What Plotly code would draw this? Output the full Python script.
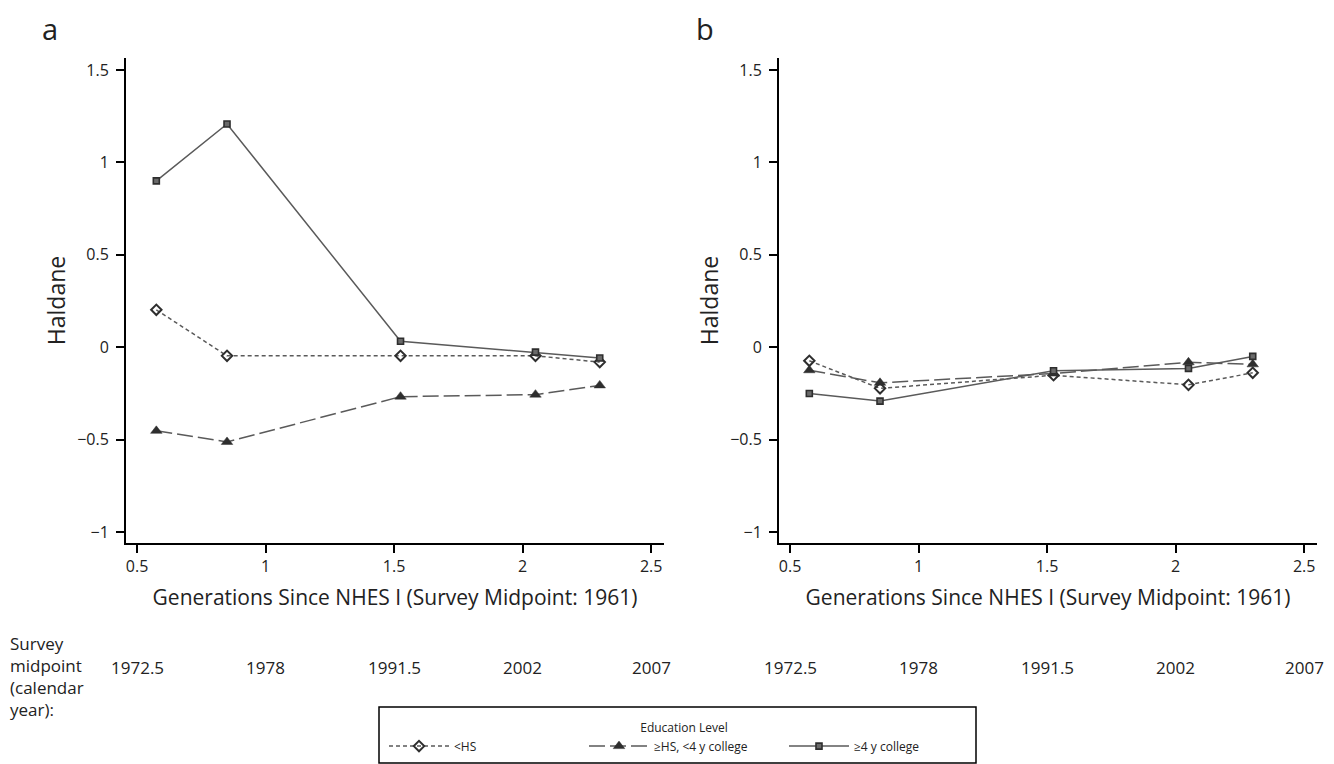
import plotly.graph_objects as go

# ---- data ----
generations = [0.575, 0.85, 1.525, 2.05, 2.3]

a_lt_hs = [0.202, -0.047, -0.047, -0.047, -0.081]
a_hs_lt4 = [-0.453, -0.513, -0.268, -0.257, -0.207]
a_ge4 = [0.90, 1.208, 0.032, -0.027, -0.059]

b_lt_hs = [-0.074, -0.223, -0.152, -0.204, -0.139]
b_hs_lt4 = [-0.125, -0.193, -0.143, -0.082, -0.093]
b_ge4 = [-0.251, -0.292, -0.128, -0.115, -0.050]

series_names = ["<HS", "\u2265HS, <4 y college", "\u22654 y college"]
x_ticks = [0.5, 1, 1.5, 2, 2.5]
year_labels = ["1972.5", "1978", "1991.5", "2002", "2007"]
y_ticks = [-1, -0.5, 0, 0.5, 1, 1.5]

# The page body adds an 8px offset; size the figure to fill the rest.
OFF = 8
W, H = 1334 - OFF, 764 - OFF
FONT = "Open Sans"
TXT = "#222222"
LINE = "#5a5a5a"
MARK = "#2e2e2e"

styles = [
    dict(line=dict(color=LINE, width=1.5, dash="4px,3px"),
         marker=dict(symbol="diamond-open", size=8, color=MARK, line=dict(width=2, color=MARK))),
    dict(line=dict(color=LINE, width=1.5, dash="16px,5px"),
         marker=dict(symbol="triangle-up", size=10, color=MARK, line=dict(width=0.5, color=MARK))),
    dict(line=dict(color=LINE, width=1.5),
         marker=dict(symbol="square", size=6, color="#6a6a6a", line=dict(width=1.6, color=MARK))),
]

fig = go.Figure()
panels = [("x", "y", [a_lt_hs, a_hs_lt4, a_ge4]), ("x2", "y2", [b_lt_hs, b_hs_lt4, b_ge4])]
for pi, (xa, ya, vals) in enumerate(panels):
    for si, v in enumerate(vals):
        fig.add_trace(go.Scatter(
            x=generations, y=v, mode="lines+markers", name=series_names[si],
            xaxis=xa, yaxis=ya, showlegend=(pi == 0),
            line=styles[si]["line"], marker=styles[si]["marker"],
        ))


def px_x(p):
    return (p - OFF) / W


def px_y(p):
    return 1 - (p - OFF) / H


xdom_a = [px_x(126), px_x(664)]
xdom_b = [px_x(779), px_x(1317)]
ydom = [px_y(543), px_y(58)]

axis_common = dict(showline=True, linecolor="black", linewidth=2, ticks="outside",
                   ticklen=8, tickwidth=1.5, tickcolor="black", showgrid=False,
                   zeroline=False, tickfont=dict(family=FONT, size=16, color=TXT))

xr = [0.457, 2.55]
yr = [-1.06, 1.565]
XT = "Generations Since NHES I (Survey Midpoint: 1961)"

xaxis_cfg = dict(range=xr, tickvals=x_ticks,
                 title=dict(text=XT, font=dict(family=FONT, size=21, color=TXT), standoff=14),
                 **axis_common)
yaxis_cfg = dict(range=yr, tickvals=y_ticks, ticklabelstandoff=4,
                 title=dict(text="Haldane", font=dict(family=FONT, size=23, color=TXT), standoff=5),
                 **axis_common)

fig.update_layout(
    width=W, height=H, margin=dict(l=0, r=0, t=0, b=0),
    paper_bgcolor="white", plot_bgcolor="white",
    font=dict(family=FONT, color=TXT),
    xaxis=dict(domain=xdom_a, anchor="y", **xaxis_cfg),
    yaxis=dict(domain=ydom, anchor="x", **yaxis_cfg),
    xaxis2=dict(domain=xdom_b, anchor="y2", **xaxis_cfg),
    yaxis2=dict(domain=ydom, anchor="x2", **yaxis_cfg),
    legend=dict(orientation="h", x=px_x(384), xanchor="left", y=px_y(716), yanchor="top",
                borderwidth=0, bgcolor="rgba(0,0,0,0)",
                title=dict(text="Education Level", side="top center",
                           font=dict(family=FONT, size=12, color=TXT)),
                font=dict(family=FONT, size=12, color=TXT), entrywidth=125,
                entrywidthmode="pixels", itemwidth=60),
)

# legend frame
fig.add_shape(type="rect", xref="paper", yref="paper",
              x0=px_x(379), x1=px_x(976), y0=px_y(763), y1=px_y(707),
              line=dict(color="black", width=1.5), fillcolor="rgba(0,0,0,0)", layer="below")

# panel letters
for letter, xp in [("a", 50), ("b", 705)]:
    fig.add_annotation(text=letter, x=px_x(xp), y=1, xref="paper", yref="paper",
                       xanchor="center", yanchor="top", showarrow=False, borderpad=0,
                       font=dict(family=FONT, size=29, color=TXT))

# survey midpoint row
fig.add_annotation(text="Survey<br>midpoint<br>(calendar<br>year):", x=px_x(8), y=px_y(630),
                   xref="paper", yref="paper", xanchor="left", yanchor="top", align="left",
                   showarrow=False, font=dict(family=FONT, size=17, color=TXT))
for xa in ["x", "x2"]:
    for tv, lab in zip(x_ticks, year_labels):
        fig.add_annotation(text=lab, x=tv, xref=xa, y=px_y(667), yref="paper",
                           xanchor="center", yanchor="middle",
                           showarrow=False, font=dict(family=FONT, size=17, color=TXT))

fig.write_html("out.html")
